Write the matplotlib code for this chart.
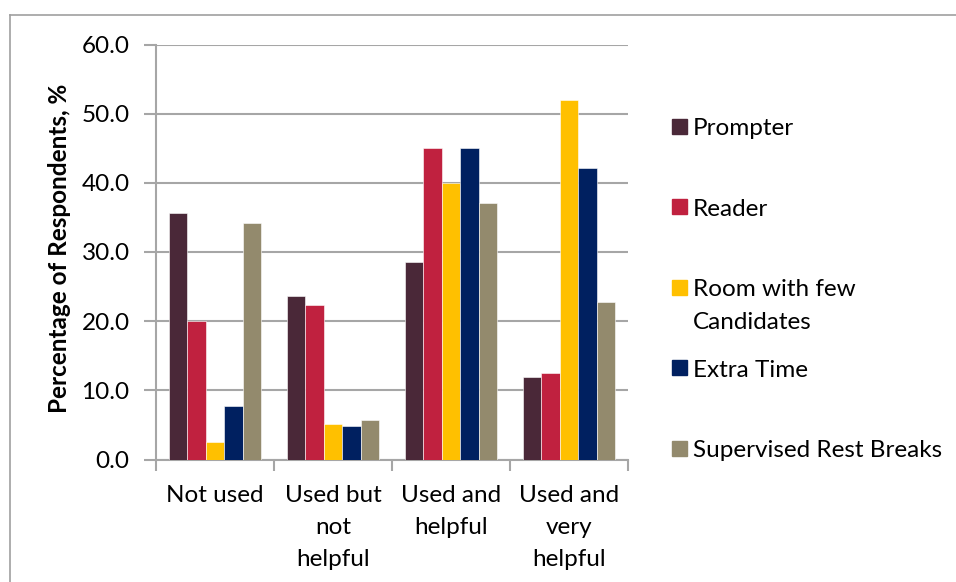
import numpy as np
import matplotlib
matplotlib.use('Agg')
import matplotlib.pyplot as plt
from matplotlib.patches import Rectangle
from matplotlib.lines import Line2D

plt.rcParams['font.family'] = ['Lato', 'DejaVu Sans']

categories = ['Not used', 'Used but\nnot\nhelpful', 'Used and\nhelpful', 'Used and\nvery\nhelpful']
series = ['Prompter', 'Reader', 'Room with few\nCandidates', 'Extra Time', 'Supervised Rest Breaks']
colors = ['#4A2838', '#C0213F', '#FFC000', '#002060', '#938A6D']

prompter = [35.7, 23.7, 28.5, 11.9]
reader = [20.0, 22.4, 45.0, 12.5]
room = [2.6, 5.2, 40.0, 52.0]
extra_time = [7.8, 4.9, 45.1, 42.1]
rest_breaks = [34.2, 5.7, 37.1, 22.8]
values = [prompter, reader, room, extra_time, rest_breaks]

W, H = 956, 582
fs = 17.5
fig = plt.figure(figsize=(W / 100, H / 100), dpi=100)
ax = fig.add_axes([156 / W, 1 - 459.5 / H, 472 / W, 415 / H])

grey = '#A6A6A6'
x = np.arange(len(categories))
bw = 0.156
for i, vals in enumerate(values):
    ax.bar(x + (i - 2) * bw, vals, bw, color=colors[i], edgecolor='white',
           linewidth=0.4, zorder=3)

ax.set_xlim(-0.5, len(categories) - 0.5)
ax.set_ylim(0, 60)
ax.set_yticks(np.arange(0, 61, 10))
ax.set_yticklabels(['%.1f' % v for v in np.arange(0, 61, 10)])
ax.yaxis.grid(True, color=grey, linewidth=1.5, zorder=0)
ax.set_axisbelow(True)

ax.set_xticks(x)
ax.set_xticklabels(categories, linespacing=1.66)
ax.set_xticks(np.arange(-0.5, len(categories)), minor=True)
ax.tick_params(axis='x', which='major', length=0, pad=18, labelsize=fs)
ax.tick_params(axis='x', which='minor', length=8, width=1.5, color=grey, direction='out')
ax.tick_params(axis='y', length=9, width=1.5, color=grey, direction='out', pad=10, labelsize=fs)

for s in ['top', 'right']:
    ax.spines[s].set_visible(False)
for s in ['left', 'bottom']:
    ax.spines[s].set_color(grey)
    ax.spines[s].set_linewidth(1.5)

fig.text(60 / W, 1 - 248 / H, 'Percentage of Respondents, %', rotation=90,
         ha='center', va='center', fontsize=17.5, fontweight='bold')

# legend drawn by hand, one entry every ~80 px
for i, name in enumerate(series):
    yc = 126.5 + i * 80.4
    fig.add_artist(Rectangle((672 / W, 1 - (yc + 7.5) / H), 15 / W, 15 / H,
                             transform=fig.transFigure, color=colors[i]))
    fig.text(693 / W, 1 - (yc - 8) / H, name, ha='left', va='top',
             fontsize=fs, linespacing=1.66)

# outer frame
fig.add_artist(Line2D([10 / W, 1], [1 - 15 / H, 1 - 15 / H], color='#A0A0A0',
                      linewidth=1.2, transform=fig.transFigure))
fig.add_artist(Line2D([10 / W, 10 / W], [0, 1 - 15 / H], color='#A0A0A0',
                      linewidth=1.2, transform=fig.transFigure))

fig.savefig('out.png', dpi=100)
